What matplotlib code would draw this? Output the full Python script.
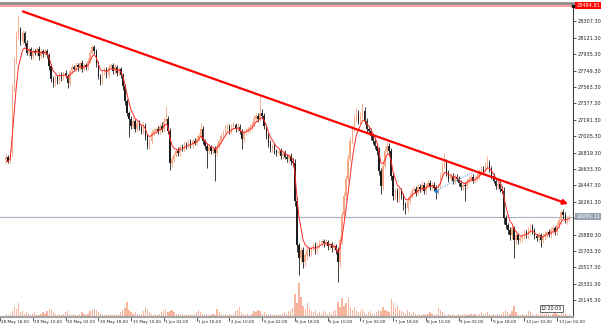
import matplotlib
matplotlib.use("Agg")
import matplotlib.pyplot as plt
import matplotlib.transforms as mtransforms
import numpy as np
import pandas as pd

# =============== data (H1 bars) ===============
close = [
    26772, 26727, 26817, 27539, 27856, 28138, 28217, 28081, 28172, 28059,
    27946, 27991, 27912, 27968, 27946, 27991, 27912, 27968, 27935, 27968,
    27923, 27799, 27652, 27607, 27675, 27630, 27698, 27675, 27720, 27686,
    27607, 27743, 27788, 27765, 27810, 27788, 27833, 27765, 27810, 27788,
    27856, 27946, 28014, 27968, 27833, 27686, 27630, 27720, 27765, 27698,
    27788, 27810, 27743, 27788, 27720, 27765, 27698, 27573, 27404, 27269,
    27201, 27122, 27178, 27088, 27156, 27110, 27065, 27122, 27009, 26896,
    26952, 27043, 27065, 27088, 27065, 27122, 27088, 27178, 27201, 27065,
    26704, 26749, 26794, 26839, 26817, 26885, 26862, 26919, 26896, 26941,
    26907, 26952, 26930, 26975, 27009, 27088, 26952, 26896, 26839, 26885,
    26839, 26862, 26817, 26896, 26952, 27009, 27043, 27088, 27122, 27065,
    27110, 27133, 27088, 27110, 27065, 26975, 27043, 27065, 27088, 27110,
    27133, 27201, 27235, 27201, 27269, 27235, 27122, 27009, 26930, 26862,
    26896, 26839, 26817, 26839, 26783, 26817, 26772, 26749, 26783, 26727,
    26704, 26275, 25767, 25620, 25710, 25575, 25654, 25710, 25688, 25733,
    25767, 25710, 25767, 25790, 25812, 25790, 25801, 25756, 25778, 25733,
    25756, 25710, 25575, 25823, 26106, 26331, 26523, 26749, 26952, 27088,
    27201, 27269, 27178, 27235, 27291, 27178, 27088, 27065, 27009, 26952,
    26896, 26839, 26614, 26444, 26670, 26839, 26896, 26839, 26557, 26331,
    26388, 26298, 26388, 26331, 26219, 26185, 26275, 26331, 26388, 26410,
    26365, 26433, 26410, 26456, 26388, 26444, 26478, 26433, 26456, 26422,
    26388, 26444, 26557, 26670, 26704, 26591, 26523, 26557, 26501, 26546,
    26523, 26478, 26433, 26456, 26444, 26501, 26523, 26546, 26501, 26523,
    26557, 26591, 26636, 26614, 26670, 26704, 26636, 26557, 26501, 26444,
    26467, 26410, 26388, 26072, 25993, 25936, 25880, 25959, 25823, 25880,
    25823, 25846, 25869, 25914, 25880, 25936, 25981, 25936, 25869, 25846,
    25880, 25823, 25869, 25891, 25914, 25891, 25936, 25959, 25914, 25993,
    26049, 26140, 26106, 26049, 26072, 26091.11,
]

upper_wick = [
    30, 25, 40, 60, 45, 60, 147, 30, 40, 25, 35, 30, 25, 40, 30, 25, 35, 30, 25, 30,
    30, 25, 20, 35, 30, 25, 40, 30, 25, 35, 30, 25, 40, 30, 35, 25, 30, 40, 25, 30,
    35, 40, 22, 30, 25, 20, 30, 35, 25, 30, 40, 25, 30, 35, 25, 30, 25, 20, 25, 20,
    25, 30, 40, 25, 35, 30, 25, 40, 30, 25, 35, 40, 30, 25, 35, 30, 40, 45, 147, 30,
    30, 35, 25, 30, 40, 25, 30, 35, 25, 30, 35, 25, 30, 40, 35, 68, 30, 25, 30, 35,
    25, 30, 35, 30, 25, 35, 30, 40, 30, 25, 35, 30, 25, 40, 30, 25, 35, 30, 25, 30,
    35, 40, 30, 35, 192, 40, 30, 25, 30, 35, 25, 30, 25, 35, 30, 25, 30, 35, 25, 30,
    30, 40, 35, 30, 40, 35, 30, 40, 35, 30, 25, 35, 30, 40, 30, 25, 35, 30, 25, 30,
    35, 30, 40, 45, 50, 45, 40, 50, 45, 40, 45, 60, 35, 45, 90, 40, 35, 30, 35, 30,
    35, 30, 40, 35, 45, 40, 50, 35, 30, 40, 35, 30, 40, 35, 30, 35, 40, 35, 30, 35,
    30, 35, 30, 40, 35, 30, 35, 30, 25, 35, 30, 35, 40, 45, 113, 40, 35, 30, 35, 30,
    35, 30, 25, 35, 30, 25, 35, 30, 25, 30, 35, 40, 35, 30, 40, 79, 35, 30, 35, 30,
    30, 35, 30, 40, 35, 30, 35, 40, 30, 35, 30, 25, 30, 35, 30, 40, 35, 30, 25, 30,
    35, 30, 40, 35, 30, 35, 40, 35, 30, 40, 35, 30, 40, 35, 30, 25,
]

lower_wick = [
    35, 30, 25, 40, 30, 35, 30, 40, 30, 35, 25, 40, 30, 35, 25, 30, 40, 30, 35, 25,
    30, 40, 35, 45, 30, 35, 30, 40, 30, 25, 57, 30, 35, 25, 30, 40, 30, 35, 25, 30,
    30, 25, 30, 35, 40, 35, 45, 30, 25, 35, 30, 25, 30, 35, 30, 25, 30, 40, 45, 40,
    200, 35, 30, 40, 35, 30, 40, 35, 45, 40, 35, 30, 40, 35, 30, 40, 35, 30, 25, 40,
    80, 45, 35, 30, 40, 35, 30, 40, 35, 30, 40, 35, 30, 25, 30, 35, 40, 35, 190, 40,
    35, 40, 316, 35, 30, 35, 30, 25, 30, 35, 30, 25, 35, 30, 40, 113, 35, 30, 25, 30,
    30, 25, 35, 30, 25, 35, 40, 35, 45, 40, 35, 40, 35, 30, 40, 35, 30, 40, 35, 45,
    40, 60, 70, 190, 50, 67, 45, 50, 40, 45, 35, 40, 35, 30, 35, 40, 35, 40, 35, 40,
    35, 45, 226, 50, 45, 40, 45, 35, 40, 35, 30, 35, 40, 35, 30, 40, 35, 40, 45, 40,
    40, 45, 50, 90, 45, 40, 35, 40, 45, 50, 40, 45, 40, 35, 50, 57, 40, 35, 30, 35,
    35, 30, 35, 30, 40, 35, 30, 35, 30, 40, 90, 35, 30, 35, 30, 40, 35, 30, 35, 40,
    30, 35, 40, 35, 169, 35, 30, 35, 30, 25, 30, 35, 30, 35, 30, 35, 40, 35, 30, 40,
    35, 40, 35, 60, 45, 40, 50, 40, 203, 45, 40, 35, 40, 35, 30, 40, 35, 40, 35, 30,
    40, 79, 35, 40, 35, 30, 40, 35, 30, 35, 30, 40, 35, 30, 35, 30,
]

volume = [
    210, 140, 210, 350, 630, 490, 840, 280, 350, 210, 280, 210, 140, 210, 280, 210, 140, 210, 280, 210,
    350, 490, 420, 280, 210, 140, 210, 140, 210, 280, 350, 210, 140, 210, 140, 140, 210, 280, 210, 140,
    210, 350, 420, 490, 420, 280, 210, 210, 140, 210, 140, 210, 140, 210, 140, 210, 280, 420, 560, 910,
    420, 280, 210, 280, 210, 140, 210, 350, 630, 420, 280, 210, 140, 210, 140, 210, 280, 350, 490, 280,
    350, 420, 280, 210, 210, 140, 210, 140, 210, 140, 210, 140, 210, 280, 420, 280, 210, 140, 210, 140,
    140, 210, 140, 490, 280, 210, 140, 210, 140, 210, 140, 210, 350, 420, 630, 280, 210, 140, 210, 140,
    210, 350, 280, 420, 350, 210, 280, 210, 140, 210, 140, 210, 140, 210, 140, 210, 280, 210, 350, 420,
    560, 1400, 840, 2100, 1260, 700, 490, 840, 490, 350, 280, 420, 210, 280, 210, 350, 280, 210, 280, 210,
    350, 420, 910, 630, 1190, 700, 840, 1260, 630, 420, 630, 350, 280, 350, 490, 280, 210, 280, 350, 210,
    210, 280, 420, 350, 630, 420, 350, 280, 1120, 840, 560, 700, 420, 350, 280, 210, 420, 280, 210, 280,
    210, 140, 210, 140, 210, 140, 210, 280, 210, 140, 210, 560, 420, 280, 210, 140, 210, 140, 210, 140,
    140, 210, 140, 210, 210, 140, 140, 210, 140, 210, 140, 210, 280, 210, 210, 280, 210, 140, 210, 140,
    210, 140, 210, 280, 420, 280, 210, 350, 700, 280, 210, 140, 210, 140, 210, 350, 280, 210, 140, 210,
    140, 210, 280, 210, 420, 210, 140, 210, 280, 210, 140, 280, 210, 210, 140, 210,
]

prior_close = [26650, 26690, 26740]   # bars left of the window, only seed the MA

price_ticks = [28493.30, 28307.30, 28121.30, 27935.30, 27749.30, 27563.30, 27377.30,
               27191.30, 27005.30, 26819.30, 26633.30, 26447.30, 26261.30, 26075.30,
               25889.30, 25703.30, 25517.30, 25331.30, 25145.30]
hidden_tick = 26075.30   # covered by the bid box in the chart

time_tick_pos = [-3, 13, 29, 45, 61, 77, 93, 109, 125, 141, 157, 173, 189, 205,
                 221, 237, 253, 269]
time_tick_labels = ['28 May 18:00', '29 May 10:00', '30 May 02:00', '30 May 18:00',
                    '31 May 10:00', '1 Jun 02:00', '1 Jun 18:00', '2 Jun 10:00',
                    '5 Jun 02:00', '5 Jun 18:00', '6 Jun 10:00', '7 Jun 02:00',
                    '7 Jun 18:00', '8 Jun 10:00', '9 Jun 02:00', '9 Jun 18:00',
                    '12 Jun 10:00', '13 Jun 02:00']

hline_price = 28484.81
bid_price = 26091.11
trend_start = (8.2, 28420)
trend_end = (274.4, 26236)
trade_start = (210, 26388)
trade_end = (229.4, 26614)
clock_text = '12:20:03'

# =============== building bars ===============
close = np.array(close, dtype=float)
open_ = np.concatenate([[prior_close[-1]], close[:-1]])
high = np.maximum(open_, close) + np.array(upper_wick)
low = np.minimum(open_, close) - np.array(lower_wick)
idx = np.arange(len(close))
ma = pd.Series(prior_close + list(close)).ewm(span=5, adjust=False).mean().values[len(prior_close):]

bull_col = '#f7a784'
bear_col = '#1c1c1c'
cols = np.where(close >= open_, bull_col, bear_col)

plt.rcParams['font.family'] = 'DejaVu Sans'
plt.rcParams['font.size'] = 3.6

fig = plt.figure(figsize=(6.03, 3.29), dpi=100)
rect = [0, 12 / 329, 573 / 603, 314 / 329]

# volume underneath
vax = fig.add_axes(rect)
vax.bar(idx, volume, width=0.6, color='#f6b59c', linewidth=0)
vax.set_ylim(0, 19500)
vax.set_xlim(-0.53, 276.8)
vax.axis('off')

ax = fig.add_axes(rect, sharex=vax)
ax.patch.set_alpha(0)

# candles
ax.vlines(idx, low, high, colors=cols, linewidth=0.6, zorder=3)
body = np.abs(close - open_)
body = np.where(body < 8, 8, body)
ax.bar(idx, body, bottom=np.minimum(open_, close), width=0.7, color=cols,
       linewidth=0, zorder=3)

# moving average
ax.plot(idx, ma, color='#ff2a2a', linewidth=0.7, zorder=4)

# horizontal lines
ax.axhline(hline_price, color='#ff9a9a', linewidth=1.4, zorder=2)
ax.axhline(bid_price, color='#a9b3c4', linewidth=0.8, zorder=2)

# trend line with arrow
ax.annotate('', xy=trend_end, xytext=trend_start,
            arrowprops=dict(arrowstyle='-|>', color='#ff0000', lw=1.6,
                            mutation_scale=7, shrinkA=0, shrinkB=0), zorder=5)

# dotted trade line
ax.plot([trade_start[0], trade_end[0]], [trade_start[1], trade_end[1]],
        color='#5a9fe6', linestyle=(0, (1, 1.2)), linewidth=0.8, zorder=5)
ax.plot(trade_start[0], trade_start[1], 'o', color='#2f7fd6', markersize=1.6, zorder=6)

ax.set_xlim(-0.53, 276.8)
ax.set_ylim(24954, 28516)

# axes styling
ax.spines['left'].set_visible(False)
ax.spines['top'].set_color('#8c8c8c')
ax.spines['top'].set_linewidth(2)
ax.spines['right'].set_color('#404040')
ax.spines['right'].set_linewidth(0.8)
ax.spines['bottom'].set_color('#a4a4a4')
ax.spines['bottom'].set_linewidth(1.6)

ax.yaxis.tick_right()
ax.set_yticks(price_ticks)
ax.set_yticklabels(['' if p == hidden_tick else '%.2f' % p for p in price_ticks])
ax.tick_params(axis='y', length=2.5, width=0.6, color='#404040', pad=1,
               labelsize=3.6, labelcolor='#202020')

ax.set_xticks(time_tick_pos)
ax.set_xticklabels([''] * len(time_tick_pos))
ax.tick_params(axis='x', length=3, width=0.6, color='#404040')
lbl_tr = mtransforms.offset_copy(ax.get_xaxis_transform(), fig=fig, x=1.5, y=-3.2, units='dots')
for pos, lab in zip(time_tick_pos, time_tick_labels):
    ax.text(pos, 0, lab, transform=lbl_tr, ha='left', va='top', fontsize=3.0,
            color='#202020', clip_on=False)

# price boxes on the right scale
yb = mtransforms.blended_transform_factory(ax.transAxes, ax.transData)
ax.text(1.006, hline_price, '%.2f' % hline_price, transform=yb, ha='left', va='center',
        fontsize=3.6, color='white', clip_on=False, zorder=10,
        bbox=dict(facecolor='#ff0000', edgecolor='none', pad=0.8))
ax.plot(1.0, hline_price, 's', color='#101010', markersize=1.5, transform=yb,
        clip_on=False, zorder=10)
ax.text(1.006, bid_price, '%.2f' % bid_price, transform=yb, ha='left', va='center',
        fontsize=3.6, color='white', clip_on=False, zorder=10,
        bbox=dict(facecolor='#9aa3b3', edgecolor='none', pad=0.8))

# clock box
ax.text(0.944, 0.018, clock_text, transform=ax.transAxes, ha='left', va='bottom',
        fontsize=3.4, color='#202020', zorder=10,
        bbox=dict(facecolor='white', edgecolor='#303030', linewidth=0.5, pad=0.6))

fig.savefig('out.png', dpi=100, facecolor='white')
